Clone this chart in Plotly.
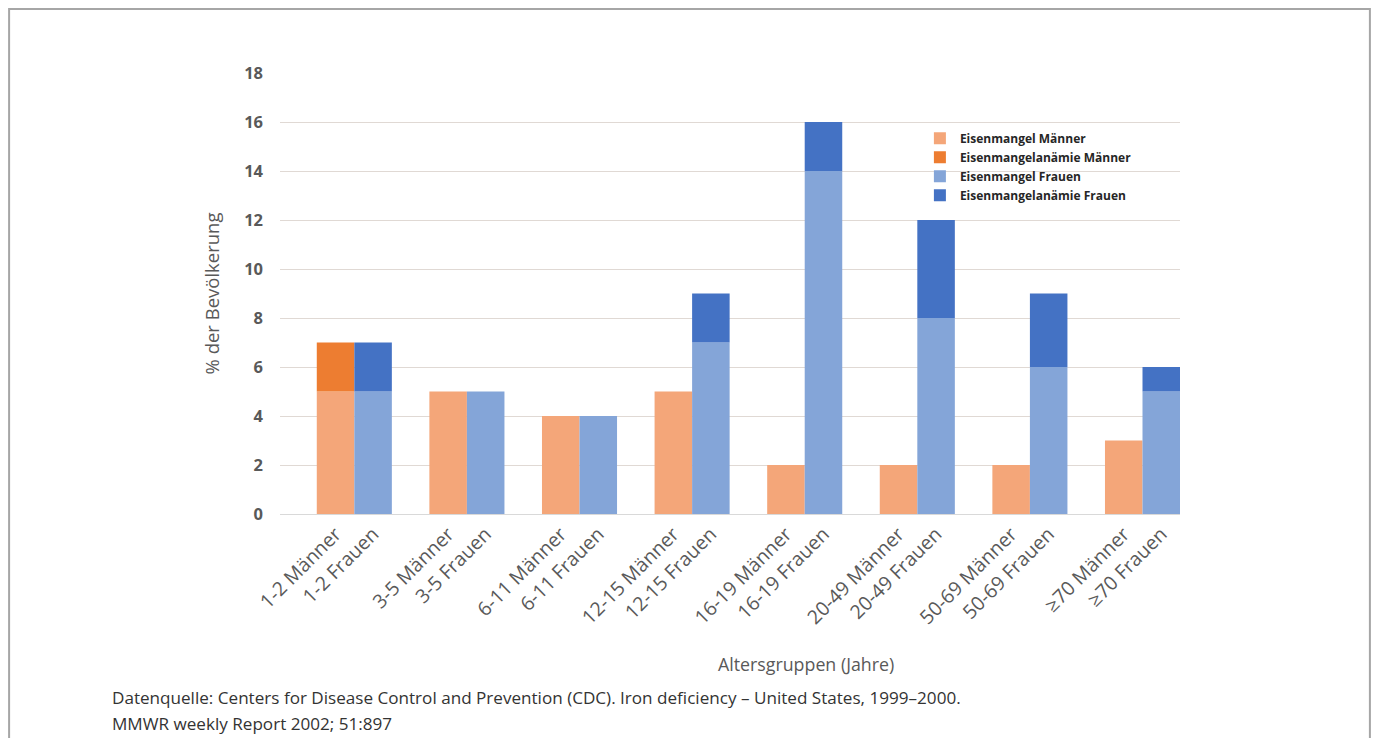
import plotly.graph_objects as go

age_groups = ["1-2", "3-5", "6-11", "12-15", "16-19", "20-49", "50-69", "≥70"]
eisenmangel_maenner = [5, 5, 4, 5, 2, 2, 2, 3]
anaemie_maenner = [2, 0, 0, 0, 0, 0, 0, 0]
eisenmangel_frauen = [5, 5, 4, 7, 14, 8, 6, 5]
anaemie_frauen = [2, 0, 0, 2, 2, 4, 3, 1]

series_names = ["Eisenmangel Männer", "Eisenmangelanämie Männer",
                "Eisenmangel Frauen", "Eisenmangelanämie Frauen"]
colors = ["#F4A679", "#ED7D31", "#84A5D8", "#4472C4"]

idx = list(range(len(age_groups)))
bw = 1 / 3

fig = go.Figure()
fig.add_trace(go.Bar(x=idx, y=eisenmangel_maenner, width=bw, offset=-bw,
                     name=series_names[0], marker_color=colors[0], marker_line_width=0))
fig.add_trace(go.Bar(x=idx, y=anaemie_maenner, base=eisenmangel_maenner, width=bw, offset=-bw,
                     name=series_names[1], marker_color=colors[1], marker_line_width=0))
fig.add_trace(go.Bar(x=idx, y=eisenmangel_frauen, width=bw, offset=0,
                     name=series_names[2], marker_color=colors[2], marker_line_width=0))
fig.add_trace(go.Bar(x=idx, y=anaemie_frauen, base=eisenmangel_frauen, width=bw, offset=0,
                     name=series_names[3], marker_color=colors[3], marker_line_width=0))

tickvals, ticktext = [], []
for i, g in enumerate(age_groups):
    tickvals += [i - bw / 2, i + bw / 2]
    ticktext += [g + " Männer", g + " Frauen"]

gray = "#595959"
fig.update_layout(
    width=1377, height=738,
    margin=dict(l=280, r=197, t=73, b=224),
    paper_bgcolor="white", plot_bgcolor="white",
    barmode="overlay",
    font=dict(family="Open Sans", color=gray),
    showlegend=True,
    legend=dict(x=0.711, y=0.885, xanchor="left", yanchor="top",
                font=dict(size=12, color="#262626", weight="bold"),
                bgcolor="rgba(0,0,0,0)", tracegroupgap=0, itemwidth=30),
    xaxis=dict(range=[-0.66, 7.333], tickvals=tickvals, ticktext=ticktext,
               tickangle=-45, tickfont=dict(size=19.5, color=gray),
               showgrid=False, zeroline=False, showline=True,
               linecolor="#d9d9d9", linewidth=1, ticks=""),
    yaxis=dict(range=[0, 18], dtick=2, tickfont=dict(size=16.5, color=gray, weight="bold"),
               gridcolor="#e0d9d4", gridwidth=1, zeroline=False, showline=False,
               ticklabelstandoff=16),
    annotations=[
        dict(text="% der Bevölkerung", textangle=-90, x=-0.0756, y=0.5,
             xref="paper", yref="paper", xanchor="center", yanchor="middle",
             showarrow=False, font=dict(size=18.5, color=gray)),
        dict(text="Altersgruppen (Jahre)", x=0.584, y=-0.34,
             xref="paper", yref="paper", xanchor="center", yanchor="middle",
             showarrow=False, font=dict(size=17.8, color=gray)),
        dict(text="Datenquelle: Centers for Disease Control and Prevention (CDC). Iron deficiency – United States, 1999–2000.",
             x=-0.189, y=-0.417, xref="paper", yref="paper", xanchor="left", yanchor="middle",
             showarrow=False, font=dict(size=17.1, color="#333333")),
        dict(text="MMWR weekly Report 2002; 51:897",
             x=-0.189, y=-0.476, xref="paper", yref="paper", xanchor="left", yanchor="middle",
             showarrow=False, font=dict(size=17.1, color="#333333")),
    ],
    shapes=[dict(type="rect", xref="paper", yref="paper",
                 x0=-0.301, x1=1.211, y0=-0.53, y1=1.145,
                 line=dict(color="#a6a6a6", width=2), fillcolor="rgba(0,0,0,0)")],
)

fig.write_html("out.html")
